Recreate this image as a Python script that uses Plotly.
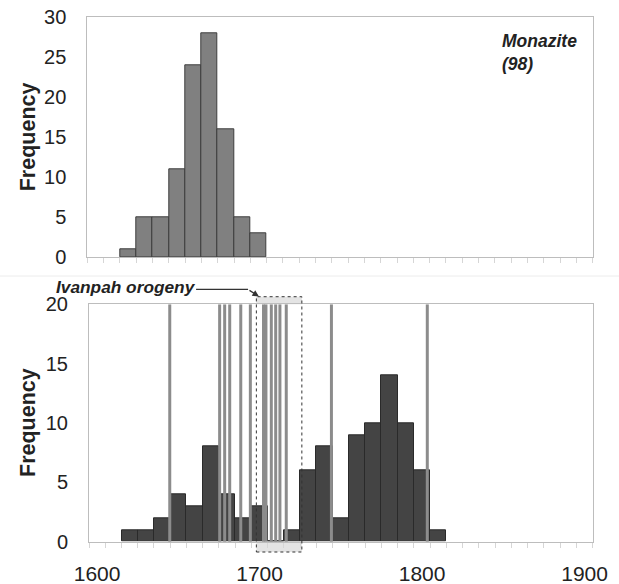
import plotly.graph_objects as go

# ---------------- data ----------------
mon_bins = [1620, 1630, 1640, 1650, 1660, 1670, 1680, 1690, 1700]
mon_counts = [1, 5, 5, 11, 24, 28, 16, 5, 3]

zir_bins = [1620, 1630, 1640, 1650, 1660, 1670, 1680, 1690, 1700, 1710,
            1720, 1730, 1740, 1750, 1760, 1770, 1780, 1790, 1800, 1810]
zir_counts = [1, 1, 2, 4, 3, 8, 4, 2, 3, 0,
              1, 6, 8, 2, 9, 10, 14, 10, 6, 1]

mon_ages = [1644.7, 1675.4, 1678.5, 1681.6, 1688.4, 1694.3, 1702.4, 1703.9,
            1707.2, 1709.9, 1712.5, 1716.4, 1744.2, 1803.2]

orogeny_start = 1698
orogeny_end = 1726

x_ticks = [1600, 1700, 1800, 1900]
top_y_ticks = [0, 5, 10, 15, 20, 25, 30]
bot_y_ticks = [0, 5, 10, 15, 20]

# ---------------- figure ----------------
W, H = 619, 584
FONT = "Liberation Sans, Arial, sans-serif"
TXT = "#222222"
AXC = "#bdbdbd"

fig = go.Figure()

fig.add_trace(go.Bar(
    x=mon_bins, y=mon_counts, width=10,
    marker=dict(color="#808080", line=dict(color="#3c3c3c", width=1)),
    xaxis="x", yaxis="y", hoverinfo="x+y"))

fig.add_trace(go.Bar(
    x=zir_bins, y=zir_counts, width=10,
    marker=dict(color="#444444", line=dict(color="#2a2a2a", width=1)),
    xaxis="x2", yaxis="y2", hoverinfo="x+y"))

lx, ly = [], []
for a in mon_ages:
    lx += [a, a, None]
    ly += [0, bot_y_ticks[-1], None]
fig.add_trace(go.Scatter(
    x=lx, y=ly, mode="lines",
    line=dict(color="#8c8c8c", width=3),
    xaxis="x2", yaxis="y2", hoverinfo="skip"))

minor = dict(tick0=1595, dtick=10, ticks="outside", ticklen=5,
             tickcolor="#d6d6d6", tickwidth=1)

common_x = dict(range=[1595, 1905], showline=True, mirror=True, linecolor=AXC,
                linewidth=1, showgrid=False, zeroline=False, ticks="",
                minor=minor, automargin=False)
common_y = dict(showline=True, mirror=True, linecolor=AXC, linewidth=1,
                showgrid=False, zeroline=False, ticks="", automargin=False,
                tickfont=dict(size=20, color=TXT, family=FONT),
                ticklabelstandoff=16)

fig.update_layout(
    template="none",
    width=W, height=H,
    margin=dict(l=0, r=0, t=0, b=0, pad=0, autoexpand=False),
    paper_bgcolor="white", plot_bgcolor="white",
    showlegend=False, bargap=0, barmode="overlay",
    font=dict(family=FONT, color=TXT),
    xaxis=dict(domain=[87.3 / W, 592.7 / W], anchor="y",
               showticklabels=False, **common_x),
    yaxis=dict(domain=[1 - 257.3 / H, 1 - 17.3 / H], anchor="x",
               range=[0, 30], tickvals=top_y_ticks, **common_y),
    xaxis2=dict(domain=[89 / W, 592.7 / W], anchor="y2",
                tickvals=x_ticks,
                tickfont=dict(size=21, color=TXT, family=FONT),
                ticklabelstandoff=13, **common_x),
    yaxis2=dict(domain=[1 - 541.7 / H, 1 - 304.3 / H], anchor="x2",
                range=[0, 20], tickvals=bot_y_ticks, **common_y),
)

# orogeny box: grey strips outside plot area + dotted outline
box_top, box_bot = 1.032, -0.0434
for y0, y1 in [(1, box_top), (box_bot, 0)]:
    fig.add_shape(type="rect", xref="x2", yref="y2 domain",
                  x0=orogeny_start, x1=orogeny_end, y0=y0, y1=y1,
                  fillcolor="#e4e4e4", line=dict(width=0), layer="below")
fig.add_shape(type="rect", xref="x2", yref="y2 domain",
              x0=orogeny_start, x1=orogeny_end, y0=box_bot, y1=box_top,
              fillcolor="rgba(0,0,0,0)",
              line=dict(color="#333333", width=1, dash="dot"), layer="above")

# separator between panels
fig.add_shape(type="line", xref="paper", yref="paper", x0=0, x1=1,
              y0=1 - 276 / H, y1=1 - 276 / H,
              line=dict(color="#ececec", width=1))

# Ivanpah leader line + arrow
fig.add_shape(type="line", xref="x2", yref="y2 domain",
              x0=1660.9, x1=1692.9, y0=1.063, y1=1.063,
              line=dict(color="#333333", width=1.3))
fig.add_annotation(xref="x2", yref="y2 domain", x=1699.6, y=1.033,
                   text="", showarrow=True, ax=-11, ay=-7,
                   arrowhead=2, arrowsize=1, arrowwidth=1.3,
                   arrowcolor="#333333", standoff=0)

fig.add_annotation(xref="paper", yref="paper", x=54 / W, y=1 - 287.0 / H,
                   xanchor="left", yanchor="middle", showarrow=False,
                   text="<b><i>Ivanpah orogeny</i></b>",
                   font=dict(size=17.3, color=TXT, family=FONT))

fig.add_annotation(xref="paper", yref="paper", x=500 / W, y=1 - 52.3 / H,
                   xanchor="left", yanchor="middle", showarrow=False,
                   align="left",
                   text="<b><i>Monazite</i></b><br><b><i>(98)</i></b>",
                   font=dict(size=17.5, color=TXT, family=FONT))

for yc in [(17.3 + 257.3) / 2, (304.3 + 541.7) / 2]:
    fig.add_annotation(xref="paper", yref="paper", x=28 / W, y=1 - yc / H,
                       xanchor="center", yanchor="middle", showarrow=False,
                       textangle=-90, text="<b>Frequency</b>",
                       font=dict(size=21.5, color=TXT, family=FONT))

fig.write_html("out.html")
